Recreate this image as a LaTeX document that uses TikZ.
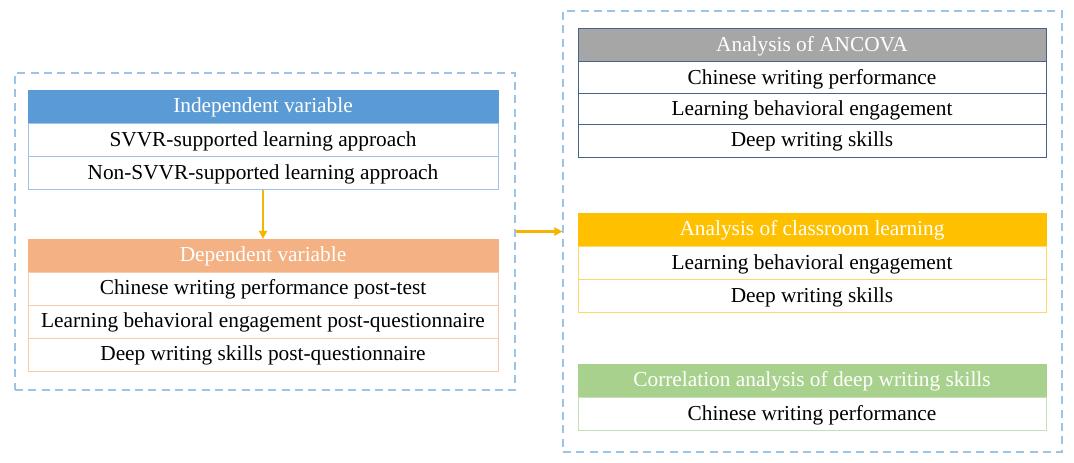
\documentclass[tikz,border=0pt]{standalone}
\usepackage{fontspec}
\setmainfont{Liberation Serif}
\usetikzlibrary{arrows.meta}
\definecolor{dashc}{HTML}{9DC3E6}
\definecolor{blueh}{HTML}{5B9BD5}
\definecolor{bluel}{HTML}{9DC3E6}
\definecolor{orah}{HTML}{F4B183}
\definecolor{oral}{HTML}{F8CBAD}
\definecolor{grayh}{HTML}{A6A6A6}
\definecolor{slate}{HTML}{44628A}
\definecolor{yelh}{HTML}{FFC000}
\definecolor{yell}{HTML}{FFD966}
\definecolor{greh}{HTML}{A9D18E}
\definecolor{grel}{HTML}{C5E0B4}
\definecolor{arrc}{HTML}{F5B400}
\tikzset{
  dbox/.style={draw=dashc, line width=0.8pt, dash pattern=on 6pt off 4pt, inner sep=0pt},
  lcell/.style={minimum width=352.5pt, minimum height=24.5pt, inner sep=0pt, text depth=0.03em, text height=0.97em, font=\fontsize{16}{19}\selectfont},
  rcell/.style={minimum width=351pt, minimum height=24.5pt, inner sep=0pt, text depth=0.03em, text height=0.97em, font=\fontsize{16}{19}\selectfont},
  head/.style={text=white},
  flow/.style={draw=arrc, line width=1.6pt, -{Triangle[length=6pt,width=6pt]}}
}
\begin{document}
\begin{tikzpicture}[x=0.75pt,y=-0.75pt]
\useasboundingbox (0,0) rectangle (1074,462);
% dashed frames
\node[dbox, minimum width=375pt, minimum height=237.75pt] (L) at (265,231.5) {};
\node[dbox, minimum width=374.25pt, minimum height=330.75pt] (R) at (812.5,231.5) {};
% left: independent
\node[lcell, head, fill=blueh, draw=blueh] (iv) at (263,106.5) {Independent variable};
\node[lcell, fill=white, draw=bluel] (iv1) at (263,140) {SVVR-supported learning approach};
\node[lcell, fill=white, draw=bluel] (iv2) at (263,173) {Non-SVVR-supported learning approach};
% left: dependent
\node[lcell, head, fill=orah, draw=orah] (dv) at (263,255.5) {Dependent variable};
\node[lcell, fill=white, draw=oral] (dv1) at (263,288.5) {Chinese writing performance post-test};
\node[lcell, fill=white, draw=oral] (dv2) at (263,321.5) {Learning behavioral engagement post-questionnaire};
\node[lcell, fill=white, draw=oral] (dv3) at (263,354.5) {Deep writing skills post-questionnaire};
% right: ANCOVA
\node[rcell, head, fill=grayh, draw=slate] (an) at (812,45) {Analysis of ANCOVA};
\node[rcell, fill=white, draw=slate] (an1) at (812,78) {Chinese writing performance};
\node[rcell, fill=white, draw=slate] (an2) at (812,109.5) {Learning behavioral engagement};
\node[rcell, fill=white, draw=slate] (an3) at (812,140.5) {Deep writing skills};
% right: classroom
\node[rcell, head, fill=yelh, draw=yelh] (cl) at (812,229.5) {Analysis of classroom learning};
\node[rcell, fill=white, draw=yell] (cl1) at (812,263) {Learning behavioral engagement};
\node[rcell, fill=white, draw=yell] (cl2) at (812,296) {Deep writing skills};
% right: correlation
\node[rcell, head, fill=greh, draw=greh] (co) at (812,380.5) {Correlation analysis of deep writing skills};
\node[rcell, fill=white, draw=grel] (co1) at (812,414) {Chinese writing performance};
% arrows
\draw[flow] (iv2.south) -- (dv.north);
\draw[flow] (L.east) -- (R.west);
\end{tikzpicture}
\end{document}
